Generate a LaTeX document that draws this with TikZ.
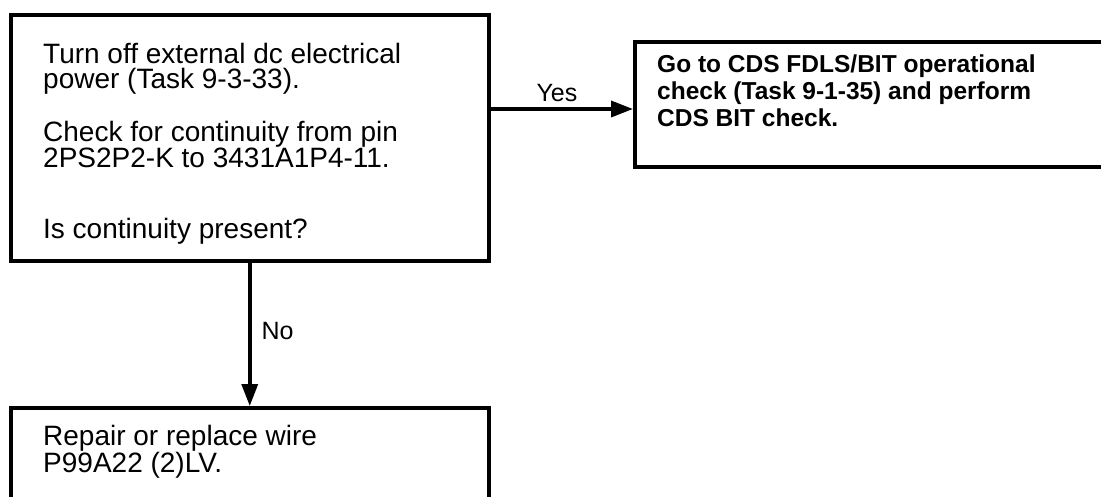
\documentclass[tikz,border=0pt]{standalone}
\usepackage{fontspec}
\setmainfont{Liberation Sans}
\usetikzlibrary{arrows.meta,positioning}

\begin{document}
\begin{tikzpicture}[x=1pt, y=-1pt,
    box/.style={rectangle, draw=black, line width=3.5pt, anchor=north west, inner sep=0pt},
    txt/.style={anchor=north west, align=left, inner sep=0pt, font=\fontsize{28}{25.5}\selectfont},
    boldtxt/.style={txt, font=\fontsize{24.5}{27}\selectfont\bfseries},
    lbl/.style={inner sep=0pt, font=\fontsize{25}{25}\selectfont},
    arr/.style={-{Triangle[length=22pt, width=16pt]}, black, line width=3.5pt}]
\useasboundingbox (0,0) rectangle (1101,496);
\clip (0,0) rectangle (1101,496);
\node[box, minimum width=478pt, minimum height=246pt] (check) at (9,13) {};
\node[box, minimum width=520pt, minimum height=125pt] (bitcheck) at (633,40) {};
\node[box, minimum width=478pt, minimum height=130pt] (repair) at (9,406) {};
\node[txt] (checktxt) at (43,42.6) {Turn off external dc electrical\\power (Task 9-3-33).\\[26pt]
    Check for continuity from pin\\2PS2P2-K to 3431A1P4-11.\\[46pt]Is continuity present?};
\node[boldtxt] (bittxt) at (657,55) {Go to CDS FDLS/BIT operational\\check (Task 9-1-35) and perform\\CDS BIT check.};
\node[txt, font=\fontsize{28}{27}\selectfont] (repairtxt) at (43,424.6) {Repair or replace wire\\P99A22 (2)LV.};
\coordinate (yesrow) at (0,109);
\draw[arr] (check.east |- yesrow) -- node[lbl, anchor=base, pos=0.466, yshift=8pt] (yes) {Yes} (bitcheck.west |- yesrow);
\draw[arr] (check.south) -- node[lbl, anchor=base west, pos=0.537, xshift=10pt] (no) {No} (repair.north);
\end{tikzpicture}
\end{document}
